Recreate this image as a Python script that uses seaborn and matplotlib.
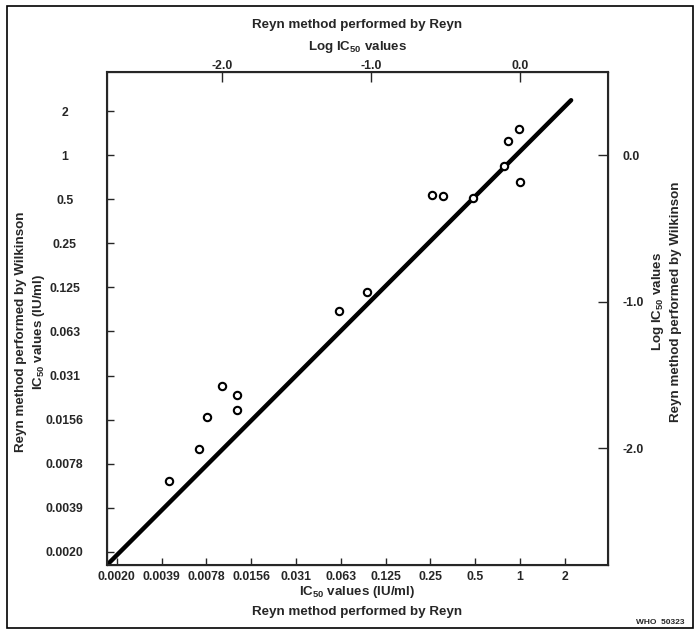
import numpy as np
import pandas as pd
import matplotlib
matplotlib.use("Agg")
import matplotlib.pyplot as plt
from matplotlib.patches import Rectangle
import seaborn as sns

# ---- data ----
reyn_ic50 = [0.00437, 0.0070, 0.00786, 0.00998, 0.0125, 0.0125, 0.0605, 0.094,
             0.257, 0.305, 0.483, 0.78, 0.835, 0.985, 1.0]
wilkinson_ic50 = [0.00595, 0.00989, 0.0162, 0.0264, 0.0232, 0.0181, 0.086, 0.117,
                  0.533, 0.525, 0.51, 0.84, 1.24, 1.51, 0.657]
fit_x = [0.00168, 2.2]
fit_y = [0.00159, 2.37]

tick_values = [2 ** k for k in range(-9, 2)]
tick_labels = ["0.0020", "0.0039", "0.0078", "0.0156", "0.031", "0.063",
               "0.125", "0.25", "0.5", "1", "2"]
log_tick_values = [0.01, 0.1, 1.0]
log_tick_labels = ["-2.0", "-1.0", "0.0"]

sns.set_style("ticks")
FONT = "Liberation Sans"
plt.rcParams["font.family"] = [FONT, "DejaVu Sans"]
plt.rcParams["font.weight"] = "bold"
plt.rcParams["mathtext.fontset"] = "custom"
plt.rcParams["mathtext.rm"] = FONT + ":bold"
plt.rcParams["mathtext.it"] = FONT + ":bold"
plt.rcParams["mathtext.bf"] = FONT + ":bold"

TICK_FS = 8.8
LABEL_FS = 9.6

fig = plt.figure(figsize=(6.97, 6.32), dpi=100)
ax = fig.add_axes([0.1535, 0.106, 0.719, 0.780])

df = pd.DataFrame({"x": reyn_ic50, "y": wilkinson_ic50})
fit = pd.DataFrame({"x": fit_x, "y": fit_y})
sns.lineplot(data=fit, x="x", y="y", color="black", linewidth=3.2, ax=ax)
sns.scatterplot(data=df, x="x", y="y", marker="o", s=28, facecolor="white",
                edgecolor="black", linewidth=1.5, ax=ax, zorder=3)

ax.set_xscale("log")
ax.set_yscale("log")
xlim = (0.00168, 3.9)
ylim = (0.00159, 3.69)
ax.set_xlim(*xlim)
ax.set_ylim(*ylim)
ax.minorticks_off()
ax.set_xticks(tick_values)
ax.set_xticklabels(tick_labels)
ax.set_yticks(tick_values)
ax.set_yticklabels(tick_labels, ha="center")
ax.tick_params(axis="both", direction="in", length=5, width=1, labelsize=TICK_FS)
ax.tick_params(axis="x", pad=4)
ax.tick_params(axis="y", pad=30.5)
for s in ax.spines.values():
    s.set_linewidth(1.5)

ax.set_xlabel("IC$_{50}$ values (IU/ml)\nReyn method performed by Reyn",
              fontsize=LABEL_FS, fontweight="bold", labelpad=1, linespacing=1.65)
ax.set_ylabel("Reyn method performed by Wilkinson\nIC$_{50}$ values (IU/ml)",
              fontsize=LABEL_FS, fontweight="bold", linespacing=1.4)
ax.yaxis.set_label_coords(-0.119, 0.473)

# top log axis
axt = ax.twiny()
axt.set_xscale("log")
axt.set_xlim(*xlim)
axt.minorticks_off()
axt.set_xticks(log_tick_values)
axt.set_xticklabels(log_tick_labels)
axt.tick_params(axis="x", direction="in", length=7, width=1, labelsize=TICK_FS, pad=0)
axt.set_xlabel("Reyn method performed by Reyn\nLog IC$_{50}$ values",
               fontsize=LABEL_FS, fontweight="bold", labelpad=7, linespacing=1.75)

# right log axis
axr = ax.twinx()
axr.set_yscale("log")
axr.set_ylim(*ylim)
axr.minorticks_off()
axr.set_yticks(log_tick_values)
axr.set_yticklabels(log_tick_labels)
axr.tick_params(axis="y", direction="in", length=7, width=1, labelsize=TICK_FS, pad=10)
axr.set_ylabel("Log IC$_{50}$ values\nReyn method performed by Wilkinson",
               fontsize=LABEL_FS, fontweight="bold", linespacing=1.45)
axr.yaxis.set_label_coords(1.083, 0.535)

fig.patches.append(Rectangle((7 / 697, 1 - 628 / 632), 686 / 697, 622 / 632,
                             transform=fig.transFigure, fill=False,
                             edgecolor="black", linewidth=1.2))
fig.text(685 / 697, 1 - 622 / 632, "WHO  50323", fontsize=6, ha="right",
         va="center", fontweight="bold")

fig.savefig("out.png", dpi=100)
